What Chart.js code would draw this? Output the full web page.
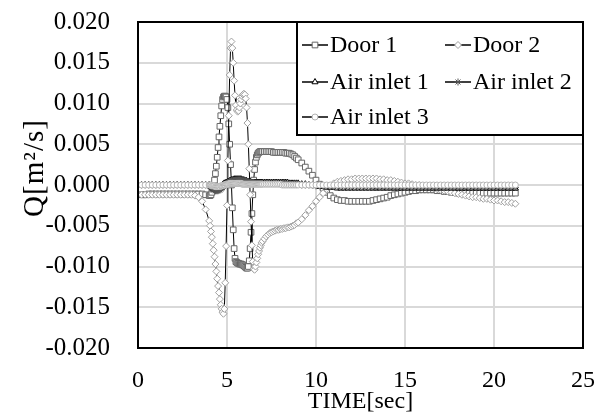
<!DOCTYPE html>
<html>
<head>
<meta charset="utf-8">
<title>Q - TIME</title>
<script src="https://cdn.jsdelivr.net/npm/chart.js@4.4.1/dist/chart.umd.min.js"></script>
<style>
  html, body { margin: 0; padding: 0; background: #fff; }
  canvas { display: block; }
</style>
</head>
<body>
<canvas id="canvas" width="608" height="414"></canvas>
<script>
/* Output times [sec]. The solver takes smaller steps while the doors move. */
const time = [
  0.2, 0.4, 0.6, 0.8, 1.0, 1.2, 1.4, 1.6, 1.8, 2.0, 2.2, 2.4, 2.6, 2.8, 3.0, 3.2, 3.4, 3.6, 3.8, 4.0,
  4.05, 4.1, 4.15, 4.2, 4.25, 4.3, 4.35, 4.4, 4.45, 4.5,
  4.55, 4.6, 4.65, 4.7, 4.75, 4.8, 4.85, 4.9, 4.95, 5.0,
  5.05, 5.1, 5.15, 5.2, 5.25, 5.3, 5.35, 5.4, 5.45, 5.5,
  5.55, 5.6, 5.65, 5.7, 5.75, 5.8, 5.85, 5.9, 5.95, 6.0,
  6.05, 6.1, 6.15, 6.2, 6.25, 6.3, 6.35, 6.4, 6.45, 6.5,
  6.55, 6.6, 6.65, 6.7, 6.75, 6.8, 6.85, 6.9, 6.95, 7.0,
  7.1, 7.2, 7.3, 7.4, 7.5, 7.6, 7.7, 7.8, 7.9, 8.0,
  8.1, 8.2, 8.3, 8.4, 8.5, 8.6, 8.7, 8.8, 8.9, 9.0,
  9.2, 9.4, 9.6, 9.8, 10.0, 10.2, 10.4, 10.6, 10.8, 11.0,
  11.2, 11.4, 11.6, 11.8, 12.0, 12.2, 12.4, 12.6, 12.8, 13.0,
  13.2, 13.4, 13.6, 13.8, 14.0, 14.2, 14.4, 14.6, 14.8, 15.0,
  15.2, 15.4, 15.6, 15.8, 16.0, 16.2, 16.4, 16.6, 16.8, 17.0,
  17.2, 17.4, 17.6, 17.8, 18.0, 18.2, 18.4, 18.6, 18.8, 19.0,
  19.2, 19.4, 19.6, 19.8, 20.0, 20.2, 20.4, 20.6, 20.8, 21.0,
  21.2
]

/* Flow rates Q [m2/s], one value per output time. */
const door1 = [
  -0.0012, -0.0012, -0.0011, -0.0011, -0.0011, -0.0011, -0.0011, -0.0011, -0.0011, -0.0011,
  -0.0011, -0.0011, -0.0011, -0.0011, -0.0011, -0.0011, -0.0011, -0.0011, -0.0012, -0.0013,
  -0.0013, -0.0012, -0.0009, -0.0005, 0.0000, 0.0006, 0.0014, 0.0023, 0.0034, 0.0046,
  0.0059, 0.0072, 0.0085, 0.0097, 0.0105, 0.0108, 0.0109, 0.0109, 0.0108, 0.0105,
  0.0095, 0.0075, 0.0050, 0.0025, 0.0000, -0.0028, -0.0055, -0.0078, -0.0090, -0.0094,
  -0.0095, -0.0096, -0.0096, -0.0097, -0.0097, -0.0097, -0.0098, -0.0098, -0.0099, -0.0100,
  -0.0101, -0.0102, -0.0102, -0.0100, -0.0093, -0.0078, -0.0058, -0.0035, -0.0012, 0.0006,
  0.0019, 0.0028, 0.0034, 0.0037, 0.0039, 0.0040, 0.0041, 0.0041, 0.0041, 0.0041,
  0.0041, 0.0041, 0.0041, 0.0041, 0.0041, 0.0040, 0.0040, 0.0040, 0.0040, 0.0040,
  0.0040, 0.0040, 0.0039, 0.0039, 0.0039, 0.0038, 0.0037, 0.0035, 0.0033, 0.0031,
  0.0027, 0.0022, 0.0017, 0.0012, 0.0006, 0.0001, -0.0004, -0.0009, -0.0013, -0.0016,
  -0.0018, -0.0019, -0.0019, -0.0020, -0.0020, -0.0020, -0.0020, -0.0020, -0.0020, -0.0020,
  -0.0019, -0.0018, -0.0017, -0.0016, -0.0015, -0.0013, -0.0012, -0.0011, -0.0010, -0.0009,
  -0.0008, -0.0007, -0.0007, -0.0006, -0.0006, -0.0006, -0.0006, -0.0006, -0.0007, -0.0007,
  -0.0008, -0.0008, -0.0009, -0.0009, -0.0010, -0.0010, -0.0010, -0.0010, -0.0010, -0.0010,
  -0.0010, -0.0010, -0.0010, -0.0010, -0.0010, -0.0010, -0.0010, -0.0010, -0.0010, -0.0010,
  -0.0010
]

const door2 = [
  -0.0012, -0.0012, -0.0012, -0.0012, -0.0012, -0.0012, -0.0012, -0.0012, -0.0012, -0.0012,
  -0.0012, -0.0012, -0.0012, -0.0012, -0.0012, -0.0013, -0.0015, -0.0020, -0.0030, -0.0044,
  -0.0050, -0.0057, -0.0064, -0.0072, -0.0080, -0.0088, -0.0097, -0.0106, -0.0115, -0.0124,
  -0.0132, -0.0140, -0.0147, -0.0152, -0.0156, -0.0158, -0.0152, -0.0120, -0.0075, -0.0025,
  0.0030, 0.0085, 0.0135, 0.0168, 0.0176, 0.0168, 0.0150, 0.0128, 0.0110, 0.0098,
  0.0092, 0.0090, 0.0091, 0.0095, 0.0100, 0.0105, 0.0109, 0.0111, 0.0112, 0.0111,
  0.0106, 0.0095, 0.0076, 0.0050, 0.0020, -0.0012, -0.0045, -0.0074, -0.0094, -0.0103,
  -0.0104, -0.0100, -0.0095, -0.0090, -0.0085, -0.0081, -0.0077, -0.0074, -0.0071, -0.0069,
  -0.0066, -0.0063, -0.0061, -0.0059, -0.0058, -0.0057, -0.0056, -0.0055, -0.0055, -0.0054,
  -0.0054, -0.0053, -0.0053, -0.0052, -0.0052, -0.0051, -0.0050, -0.0049, -0.0047, -0.0046,
  -0.0042, -0.0037, -0.0031, -0.0026, -0.0020, -0.0015, -0.0010, -0.0005, -0.0001, 0.0002,
  0.0004, 0.0005, 0.0006, 0.0007, 0.0007, 0.0008, 0.0008, 0.0008, 0.0008, 0.0008,
  0.0008, 0.0008, 0.0007, 0.0007, 0.0006, 0.0006, 0.0005, 0.0004, 0.0003, 0.0002,
  0.0002, 0.0001, 0.0000, 0.0000, -0.0001, -0.0002, -0.0003, -0.0004, -0.0005, -0.0006,
  -0.0007, -0.0008, -0.0009, -0.0010, -0.0011, -0.0012, -0.0013, -0.0014, -0.0015, -0.0015,
  -0.0016, -0.0017, -0.0017, -0.0018, -0.0019, -0.0019, -0.0020, -0.0021, -0.0021, -0.0022,
  -0.0023
]

const airInlet1 = [
  0, 0, 0, 0, 0, 0, 0, 0, 0, 0, 0, 0, 0, 0, 0, 0, 0, 0, 0, 0,
  -0.0001, -0.0002, -0.0003, -0.0004, -0.0005, -0.0005, -0.0005, -0.0005, -0.0005, -0.0004,
  -0.0004, -0.0003, -0.0002, -0.0001, 0.0000, 0.0001, 0.0002, 0.0002, 0.0003, 0.0003,
  0.0004, 0.0004, 0.0005, 0.0005, 0.0006, 0.0006, 0.0006, 0.0007, 0.0007, 0.0007,
  0.0007, 0.0007, 0.0007, 0.0007, 0.0007, 0.0007, 0.0006, 0.0006, 0.0006, 0.0005,
  0.0005, 0.0005, 0.0004, 0.0004, 0.0004, 0.0004, 0.0003, 0.0003, 0.0003, 0.0003,
  0.0003, 0.0003, 0.0003, 0.0003, 0.0003, 0.0003, 0.0003, 0.0003, 0.0003, 0.0003,
  0.0003, 0.0003, 0.0003, 0.0003, 0.0003, 0.0003, 0.0003, 0.0003, 0.0003, 0.0003,
  0.0003, 0.0003, 0.0003, 0.0003, 0.0002, 0.0002, 0.0002, 0.0002, 0.0002, 0.0002,
  0.0001, 0.0001, 0.0000, -0.0001, -0.0001, -0.0002, -0.0002, -0.0003, -0.0003, -0.0003,
  -0.0004, -0.0004, -0.0004, -0.0004, -0.0004, -0.0004, -0.0004, -0.0004, -0.0004, -0.0004,
  -0.0004, -0.0004, -0.0004, -0.0004, -0.0004, -0.0004, -0.0004, -0.0004, -0.0004, -0.0004,
  -0.0004, -0.0004, -0.0004, -0.0004, -0.0004, -0.0004, -0.0004, -0.0004, -0.0004, -0.0004,
  -0.0004, -0.0004, -0.0004, -0.0004, -0.0004, -0.0004, -0.0004, -0.0004, -0.0004, -0.0004,
  -0.0004, -0.0004, -0.0004, -0.0004, -0.0004, -0.0004, -0.0004, -0.0004, -0.0004, -0.0004,
  -0.0004
]

const airInlet2 = [
  0, 0, 0, 0, 0, 0, 0, 0, 0, 0, 0, 0, 0, 0, 0, 0, 0, 0, 0, 0,
  -0.0001, -0.0002, -0.0003, -0.0004, -0.0005, -0.0006, -0.0007, -0.0007, -0.0007, -0.0007,
  -0.0006, -0.0006, -0.0005, -0.0004, -0.0003, -0.0002, -0.0001, 0.0000, 0.0001, 0.0002,
  0.0003, 0.0003, 0.0004, 0.0004, 0.0005, 0.0005, 0.0005, 0.0005, 0.0006, 0.0006,
  0.0006, 0.0006, 0.0006, 0.0006, 0.0006, 0.0006, 0.0006, 0.0005, 0.0005, 0.0005,
  0.0005, 0.0004, 0.0004, 0.0004, 0.0003, 0.0003, 0.0003, 0.0003, 0.0003, 0.0003,
  0.0002, 0.0002, 0.0002, 0.0002, 0.0002, 0.0002, 0.0002, 0.0002, 0.0002, 0.0002,
  0.0002, 0.0002, 0.0002, 0.0002, 0.0002, 0.0002, 0.0002, 0.0002, 0.0002, 0.0002,
  0.0002, 0.0002, 0.0002, 0.0001, 0.0001, 0.0001, 0.0001, 0.0001, 0.0001, 0.0001,
  0, 0, 0, 0, -0.0001, -0.0001, -0.0001, -0.0002, -0.0002, -0.0002,
  -0.0002, -0.0002, -0.0002, -0.0002, -0.0002, -0.0002, -0.0002, -0.0002, -0.0002, -0.0002,
  -0.0003, -0.0003, -0.0003, -0.0003, -0.0003, -0.0003, -0.0003, -0.0003, -0.0003, -0.0003,
  -0.0003, -0.0003, -0.0003, -0.0003, -0.0003, -0.0003, -0.0003, -0.0003, -0.0003, -0.0003,
  -0.0003, -0.0003, -0.0003, -0.0003, -0.0003, -0.0003, -0.0003, -0.0003, -0.0003, -0.0003,
  -0.0003, -0.0003, -0.0003, -0.0003, -0.0003, -0.0003, -0.0003, -0.0003, -0.0003, -0.0003,
  -0.0003
]

const airInlet3 = [
  0, 0, 0, 0, 0, 0, 0, 0, 0, 0, 0, 0, 0, 0, 0, 0, 0, 0, 0, 0,
  0, 0, -0.0001, -0.0001, -0.0001, -0.0001, -0.0002, -0.0002, -0.0002, -0.0002,
  -0.0002, -0.0002, -0.0001, -0.0001, -0.0001, 0, 0, 0, 0.0001, 0.0001,
  0.0001, 0.0001, 0.0002, 0.0002, 0.0002, 0.0002, 0.0002, 0.0002, 0.0002, 0.0002,
  0.0002, 0.0002, 0.0002, 0.0002, 0.0002, 0.0002, 0.0001, 0.0001, 0.0001, 0.0001,
  0.0001, 0.0001, 0.0001, 0.0001, 0.0001, 0.0001, 0.0001, 0.0001, 0.0001, 0.0001,
  0.0001, 0.0001, 0.0001, 0.0001, 0.0001, 0.0001, 0.0001, 0.0001, 0.0001, 0.0001,
  0.0001, 0.0001, 0.0001, 0.0001, 0.0001, 0.0001, 0.0001, 0.0001, 0.0001, 0.0001,
  0, 0, 0, 0, 0, 0, 0, 0, 0, 0,
  0, 0, 0, 0, 0, 0, 0, 0, 0, 0,
  0, 0, 0, 0, 0, 0, 0, 0, 0, 0,
  0, 0, 0, 0, 0, 0, 0, 0, 0, 0,
  0, 0, 0, 0, 0, 0, 0, 0, 0, 0,
  0, 0, 0, 0, 0, 0, 0, 0, 0, 0,
  0, 0, 0, 0, 0, 0, 0, 0, 0, 0,
  0
]

const xTicks = [0, 5, 10, 15, 20, 25]
const yTicks = [-0.020, -0.015, -0.010, -0.005, 0, 0.005, 0.010, 0.015, 0.020]

const FONT = "'Liberation Serif', 'Times New Roman', serif"

/* Pair each value with its time for the linear x axis. */
const toPoints = values => values.map((q, i) => ({ x: time[i], y: q }))

/* Black line, white marker with a grey outline (later series drawn on top). */
const makeSeries = (label, values, pointStyle, markerColor, radius, order) => ({
  label,
  data: toPoints(values),
  pointStyle,
  pointRadius: radius,
  pointBorderColor: markerColor,
  pointBackgroundColor: "#fff",
  pointBorderWidth: 1,
  borderColor: "#000",
  borderWidth: 1,
  tension: 0,
  order
})

/* Plot frame, y axis title and the boxed two column legend in the upper right. */
const frameLegend = {
  id: "frameLegend",
  afterDraw(chart) {
    const { ctx, chartArea } = chart
    ctx.save()
    ctx.lineWidth = 2
    ctx.strokeStyle = "#000"
    ctx.strokeRect(chartArea.left, chartArea.top, chartArea.width, chartArea.height)

    // y axis title, set a little above the middle of the plot
    ctx.save()
    ctx.translate(35, chartArea.top + 146)
    ctx.rotate(-Math.PI / 2)
    ctx.font = "29px " + FONT
    ctx.letterSpacing = "1px"
    ctx.textAlign = "center"
    ctx.textBaseline = "middle"
    ctx.fillStyle = "#000"
    ctx.fillText("Q[m²/s]", 0, 0)
    ctx.restore()

    const left = chartArea.left + 159
    const top = chartArea.top
    const width = chartArea.right - left
    const height = 113
    ctx.fillStyle = "#fff"
    ctx.fillRect(left, top, width, height)
    ctx.strokeRect(left, top, width, height)

    const cols = [5, 148]
    const rows = [23, 60, 95]
    ctx.font = "24px " + FONT
    ctx.textBaseline = "middle"
    chart.data.datasets.forEach((ds, i) => {
      const x = left + cols[i % 2]
      const y = top + rows[Math.floor(i / 2)]
      ctx.beginPath()
      ctx.moveTo(x, y)
      ctx.lineTo(x + 26, y)
      ctx.lineWidth = 1.5
      ctx.strokeStyle = "#000"
      ctx.stroke()
      ctx.lineWidth = 1
      ctx.fillStyle = "#fff"
      ctx.strokeStyle = ds.pointBorderColor
      Chart.helpers.drawPoint(ctx, {
        pointStyle: ds.pointStyle, radius: ds.pointRadius, rotation: 0, borderWidth: 1
      }, x + 13, y)
      ctx.fillStyle = "#000"
      ctx.fillText(ds.label, x + 28, y + 1)
    })
    ctx.restore()
  }
}

const ctx = document.getElementById("canvas").getContext("2d")
const chart = new Chart(ctx, {
  type: "line",
  data: {
    datasets: [
      makeSeries("Door 1", door1, "rect", "#666666", 4, 5),
      makeSeries("Door 2", door2, "rectRot", "#a0a0a0", 3.5, 4),
      makeSeries("Air inlet 1", airInlet1, "triangle", "#000000", 3.5, 3),
      makeSeries("Air inlet 2", airInlet2, "star", "#555555", 3.5, 2),
      makeSeries("Air inlet 3", airInlet3, "circle", "#b4b4b4", 3, 1)
    ]
  },
  options: {
    responsive: false,
    devicePixelRatio: 1,
    animation: false,
    events: [],
    layout: { padding: { top: 22, right: 25, bottom: 0, left: 0 } },
    plugins: {
      legend: { display: false },
      tooltip: { enabled: false }
    },
    scales: {
      x: {
        type: "linear",
        min: 0,
        max: 25,
        afterBuildTicks: scale => { scale.ticks = xTicks.map(value => ({ value })) },
        afterFit: scale => {
          scale.height = 66
          scale.paddingLeft = 0
          scale.paddingRight = 0
        },
        grid: { color: "#d9d9d9", lineWidth: 2, drawTicks: false },
        border: { display: false },
        ticks: {
          color: "#000",
          font: { family: FONT, size: 24 },
          padding: 18,
          maxRotation: 0
        },
        title: {
          display: true,
          text: "TIME[sec]",
          color: "#000",
          font: { family: FONT, size: 24, lineHeight: 1 },
          padding: { top: 0, bottom: 0 }
        }
      },
      y: {
        min: -0.02,
        max: 0.02,
        afterBuildTicks: scale => { scale.ticks = yTicks.map(value => ({ value })) },
        afterFit: scale => {
          scale.width = 138
          scale.paddingTop = 0
          scale.paddingBottom = 0
        },
        grid: { color: "#d9d9d9", lineWidth: 2, drawTicks: false },
        border: { display: false },
        ticks: {
          color: "#000",
          font: { family: FONT, size: 25 },
          padding: 28,
          callback: value => (Math.abs(value) < 1e-9 ? 0 : value).toFixed(3)
        }
      }
    }
  },
  plugins: [frameLegend]
})
</script>
</body>
</html>
